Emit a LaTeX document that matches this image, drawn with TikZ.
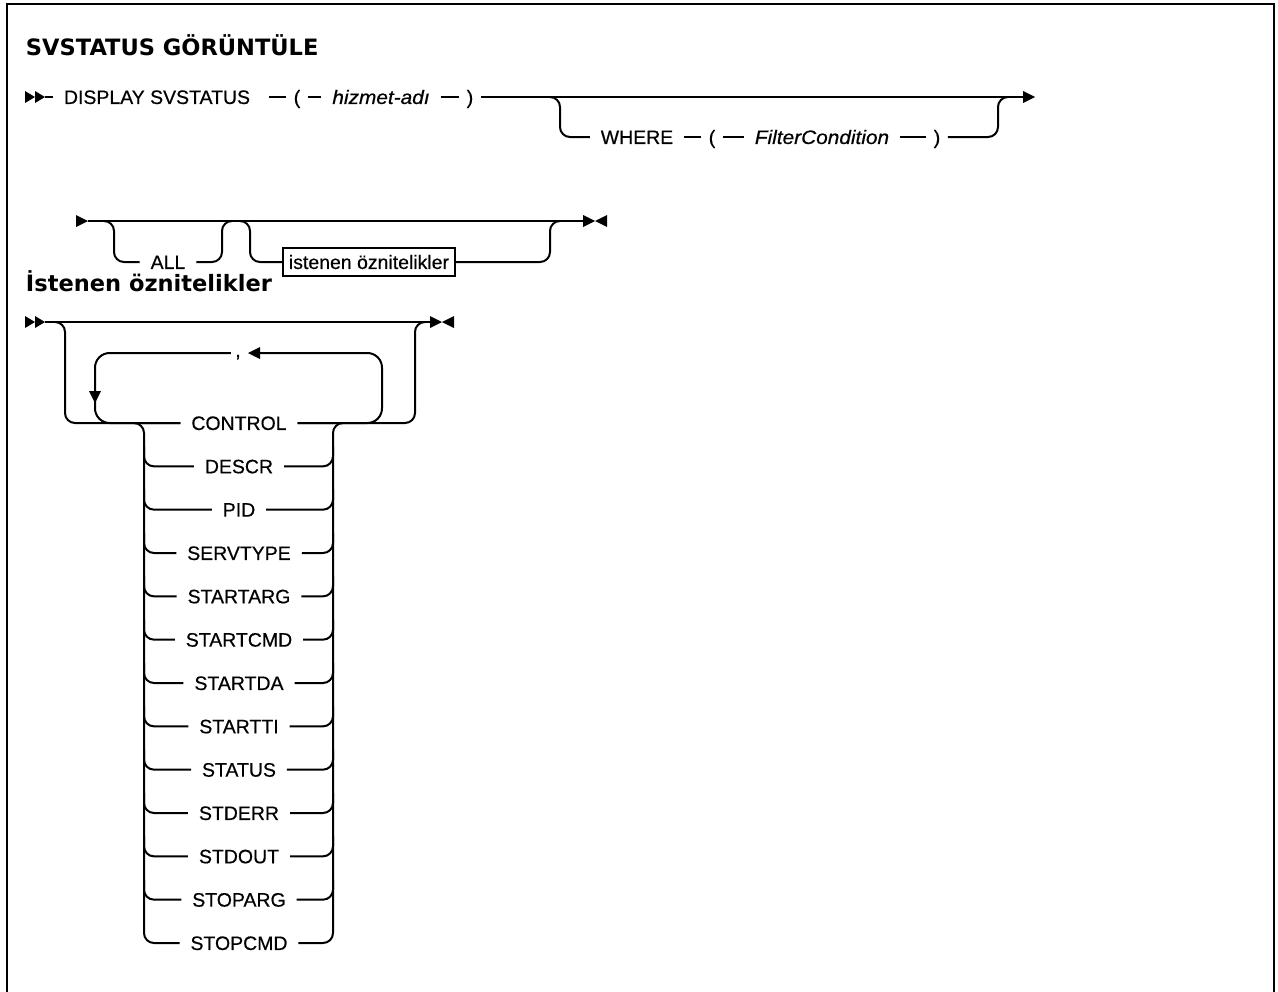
\documentclass[tikz,border=0pt]{standalone}
\usepackage{fontspec}
\setmainfont{Liberation Sans}[FakeBold=0.5]
\newfontfamily\titlefont{DejaVu Sans}
\newfontfamily\varfont[FakeStretch=1.07,FakeBold=0.6]{Liberation Sans}
\newcommand\dsz{\fontsize{14.6pt}{17pt}\selectfont}
\newcommand\tsz{\fontsize{16.9pt}{20pt}\selectfont}
\begin{document}
\begin{tikzpicture}[x=0.75pt,y=-0.75pt,line width=1.5pt,
  tok/.style={font=\dsz, inner xsep=7.5pt, inner ysep=0pt, text height=10.45pt, text depth=0pt, anchor=center},
  par/.style={tok, inner xsep=5pt},
  var/.style={tok, font=\dsz\varfont\itshape},
  bxs/.style={tok, draw, line width=1.5pt, inner xsep=4.5pt, inner ysep=5.3pt},
  ttl/.style={font=\tsz\titlefont\bfseries, anchor=base west, inner sep=0pt},
  rc/.style={rounded corners=7.5pt},
  rcl/.style={rounded corners=11pt},
  frame/.style={line width=1.9pt}]
\useasboundingbox (0,0) rectangle (1278,992);
% frame
\draw[frame] (7,992) -- (7,4) -- (1274,4) -- (1274,992);

% titles
\node[ttl] (t1) at (25,55) {SVSTATUS GÖRÜNTÜLE};
\node[ttl] (t2) at (25,291) {İstenen öznitelikler};

% ---------- row 1 ----------
\coordinate (r1s) at (45,97);
\fill (25,91) -- (35,97) -- (25,103) -- cycle;
\fill (35,91) -- (45,97) -- (35,103) -- cycle;
\node[tok] (dsp) at (157,97) {DISPLAY SVSTATUS};
\node[par] (lp1) at (297,97) {(};
\node[var] (hz) at (381,97) {hizmet-adı};
\node[par] (rp1) at (470,97) {)};
\coordinate (r1e) at (1023,97);
\fill (1023,91) -- (1035,97) -- (1023,103) -- cycle;
\draw (r1s) -- (dsp.west);
\draw ([xshift=6pt]dsp.east) -- (lp1.west);
\draw (lp1.east) -- (hz.west);
\draw (hz.east) -- (rp1.west);
\draw (rp1.east) -- (r1e);
\node[tok] (wh) at (637,137) {WHERE};
\node[par] (lp2) at (712,137) {(};
\node[var] (fc) at (822,137) {FilterCondition};
\node[par] (rp2) at (937,137) {)};
\draw[rc] (550,97) -| (560,137) -- (wh.west);
\draw (wh.east) -- (lp2.west);
\draw (lp2.east) -- (fc.west);
\draw (fc.east) -- (rp2.west);
\draw[rc] (rp2.east) -| (998,97) -- (1008,97);

% ---------- row 2 ----------
\coordinate (r2s) at (88,221);
\coordinate (r2e) at (583,221);
\fill (76,215) -- (88,221) -- (76,227) -- cycle;
\draw (r2s) -- (r2e);
\fill (583,215) -- (595,221) -- (583,227) -- cycle;
\fill (607,215) -- (595,221) -- (607,227) -- cycle;
\node[tok] (all) at (168,262) {ALL};
\draw[rc] (104,221) -| (114,262) -- (all.west);
\draw[rc] (all.east) -| (222,221) -- (232,221);
\node[bxs] (bx) at (369,262) {istenen öznitelikler};
\draw[rc] (240,221) -| (250,262) -- (bx.west);
\draw[rc] (bx.east) -| (550,221) -- (560,221);

% ---------- row 3 ----------
\coordinate (r3s) at (45,322);
\coordinate (r3e) at (430,322);
\fill (25,316) -- (35,322) -- (25,328) -- cycle;
\fill (35,316) -- (45,322) -- (35,328) -- cycle;
\draw (r3s) -- (r3e);
\fill (430,316) -- (442,322) -- (430,328) -- cycle;
\fill (454,316) -- (442,322) -- (454,328) -- cycle;

\foreach \t [count=\i from 0] in {CONTROL,DESCR,PID,SERVTYPE,STARTARG,STARTCMD,STARTDA,STARTTI,STATUS,STDERR,STDOUT,STOPARG,STOPCMD}{
  \pgfmathsetmacro\yy{423+43.333*\i}
  \node[tok] (o\i) at (239,\yy) {\t};
}
% outer branch
\draw[rc] (55,322) -| (65,423) -- (o0.west);
\draw[rc] (o0.east) -| (415,322) -- (425,322);
% repeat loop
\node[tok, inner xsep=2.5pt] (cm) at (238,350) {,};
\coordinate (la) at (260,353);
\draw[rcl] (o0.east) -| (382,353) -- (la);
\fill (260,347) -- (248,353) -- (260,359) -- cycle;
\draw[rcl] (cm.west |- la) -| (95,423) -- (o0.west);
\fill (89,391) -- (95,403) -- (101,391) -- cycle;
% stack of choices
\draw[rc] (134,423) -| (144,943) -- (o12.west);
\draw[rc] (343,423) -| (333,943) -- (o12.east);
\foreach \i in {1,...,11}{
  \draw[rc] (144,423+43.333*\i-20) |- (o\i.west);
  \draw[rc] (o\i.east) -| (333,423+43.333*\i-20);
}
\end{tikzpicture}
\end{document}
